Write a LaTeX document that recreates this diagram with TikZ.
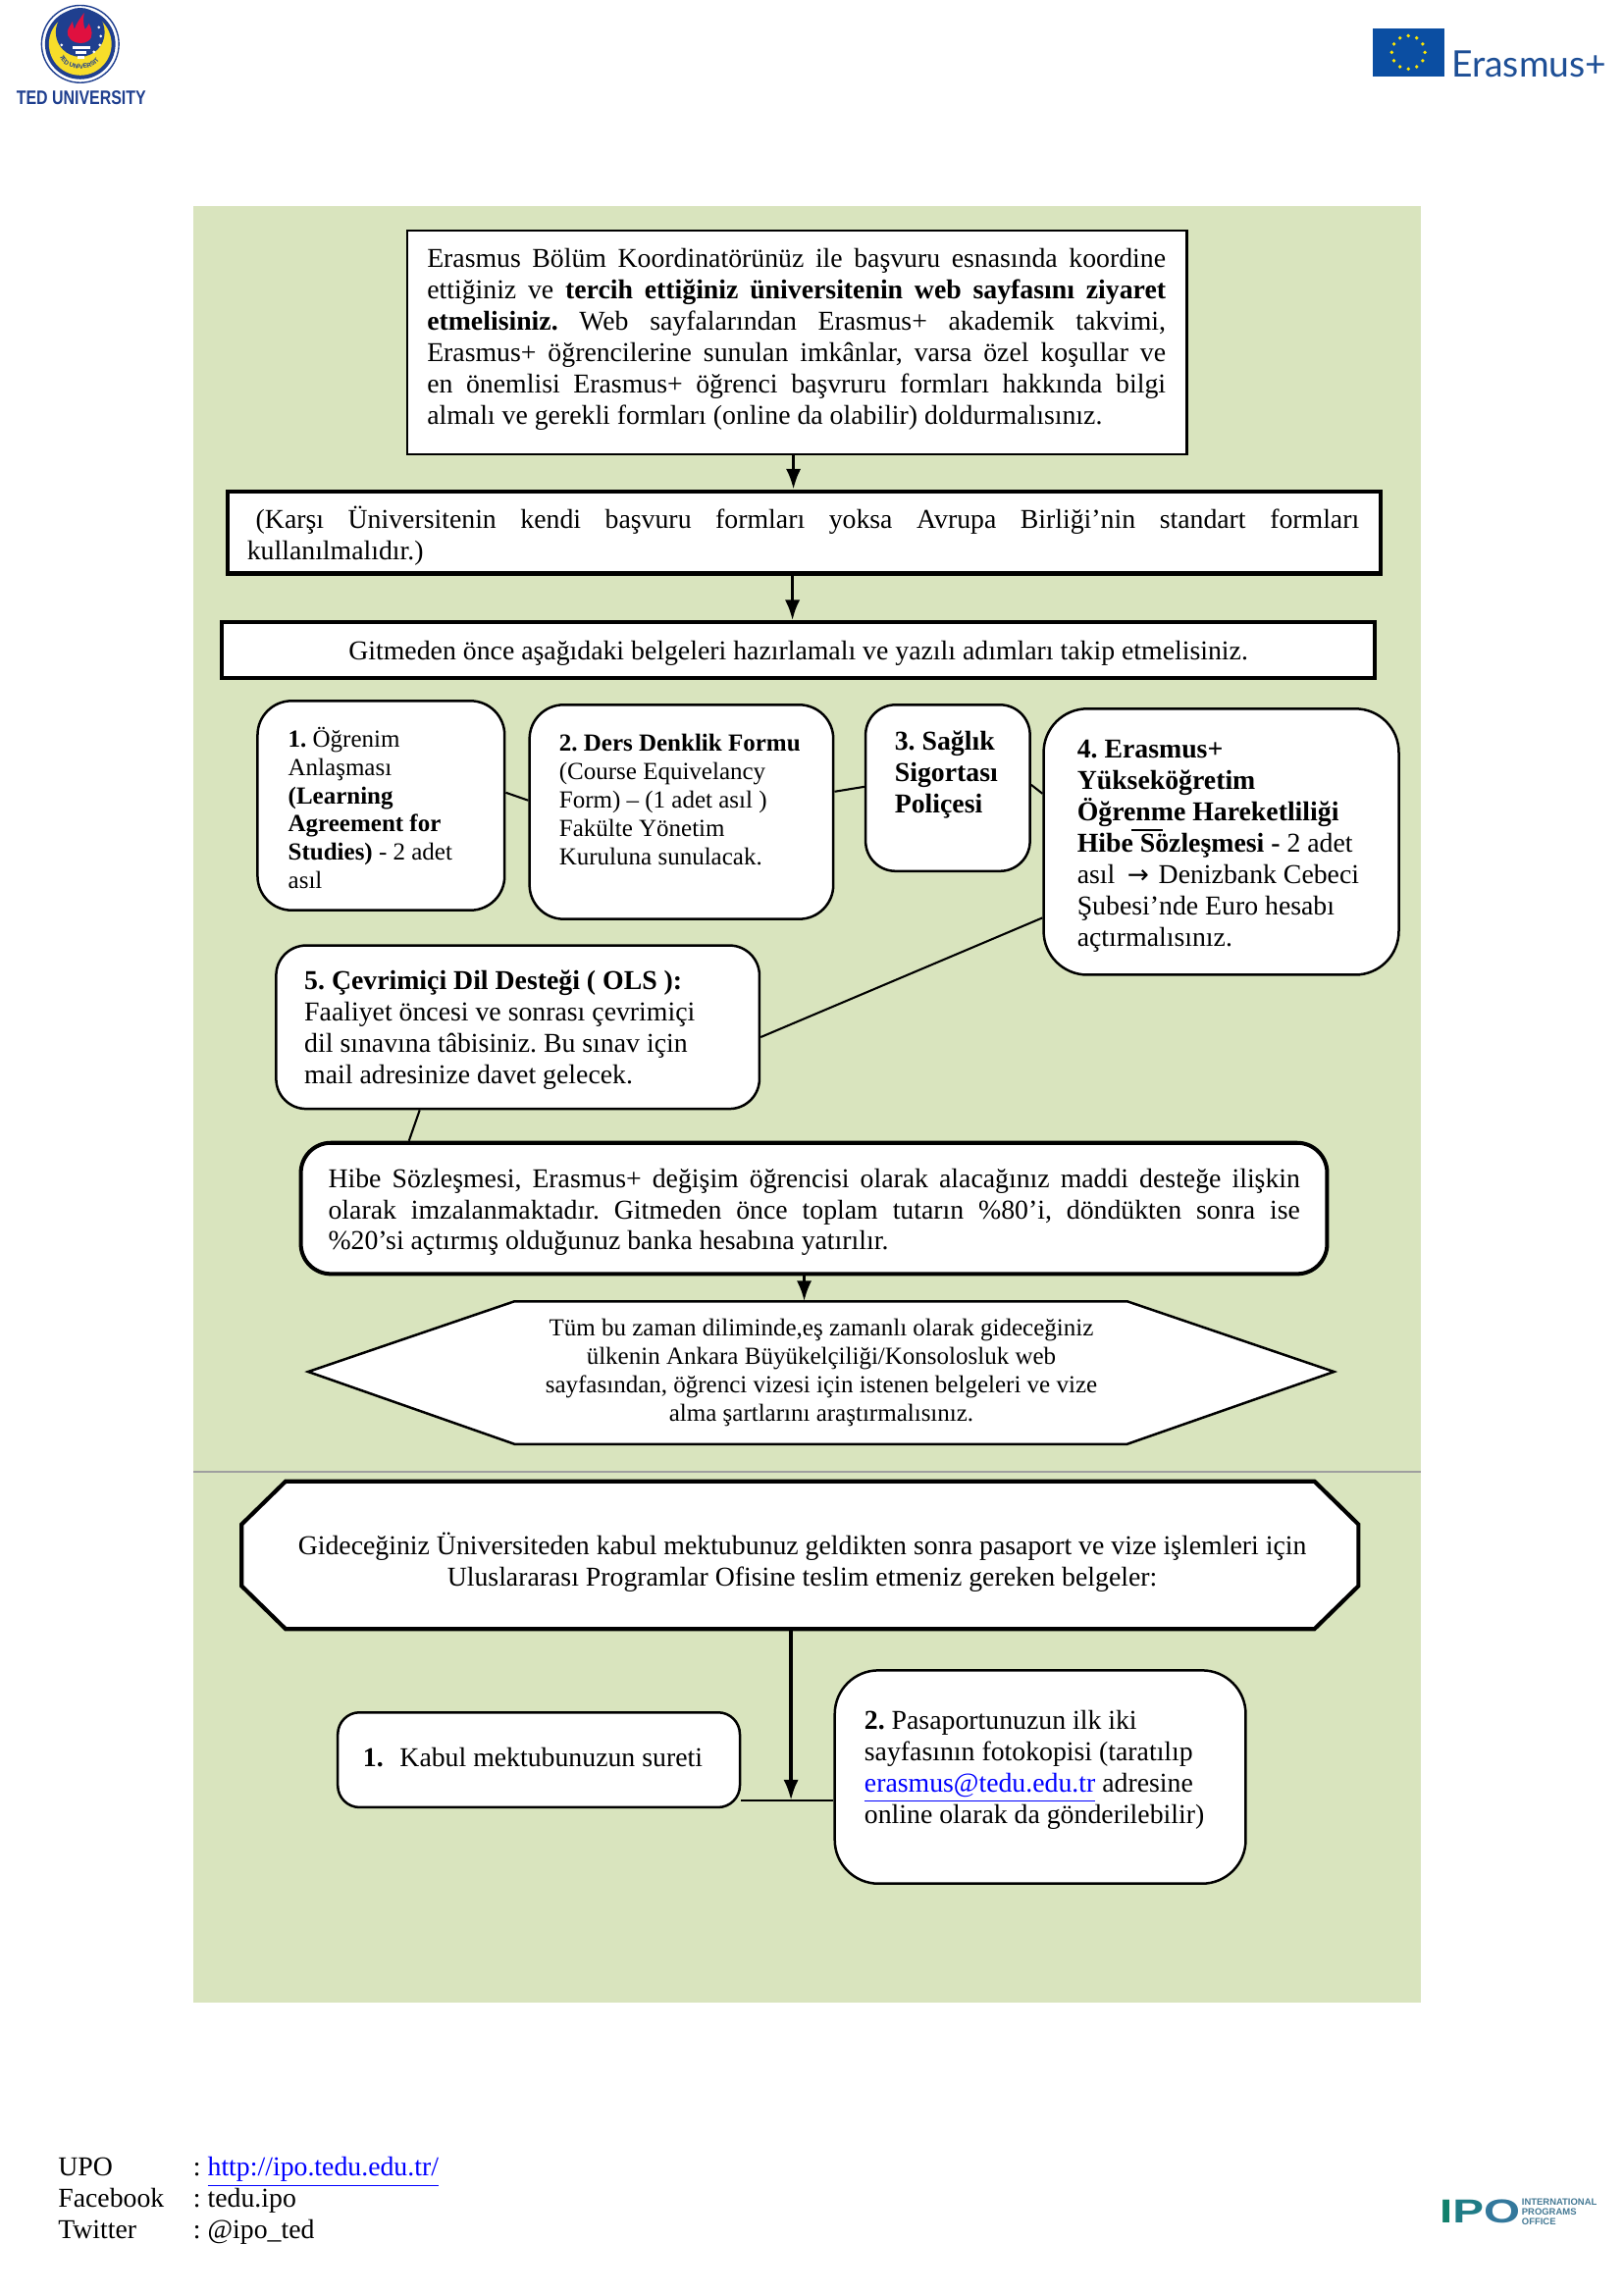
\documentclass[tikz,border=0pt]{standalone}
\usepackage{fontspec}
\usepackage{graphicx}
\setmainfont{Liberation Serif}
\newfontfamily\arrowfont{DejaVu Sans}
\newfontfamily\logosans{Liberation Sans}
\newfontfamily\erasfont{Lato}
\usetikzlibrary{arrows.meta,calc,decorations.text}
\definecolor{panel}{HTML}{D9E4BE}
\definecolor{linkblue}{HTML}{0000FF}
\definecolor{tedblue}{HTML}{1F3F8F}
\definecolor{tedyellow}{HTML}{F7DD2A}
\definecolor{tedred}{HTML}{E0103F}
\definecolor{eublue}{HTML}{0B4EA2}
\definecolor{erastext}{HTML}{1E4F96}
\newcommand\linesetup{\lineskiplimit=-100pt\relax\spaceskip=0pt\relax\xspaceskip=0pt\relax\frenchspacing}
\newcommand\lineJ[1]{\linesetup\noindent\hbox to\hsize{\strut #1}\par}
\newcommand\lineL[1]{\linesetup\noindent\hbox to\hsize{\strut #1\hfil}\par}
\newcommand\lineC[1]{\linesetup\noindent\hbox to\hsize{\strut\hfil #1\hfil}\par}
\newcommand\lnk[1]{\textcolor{linkblue}{\underline{#1}}}
\tikzset{
  x=0.3589pt,y=-0.3589pt,
  thinbox/.style={draw=black,fill=white,line width=0.9pt,rounded corners=#1,inner sep=0pt},
  thickbox/.style={draw=black,fill=white,line width=1.45pt,rounded corners=#1,inner sep=0pt},
  flatbox/.style={draw=black,fill=white,line width=#1,inner sep=0pt},
  txtten/.style={inner sep=0pt,anchor=north west,font=\fontsize{10}{11.5}\selectfont},
  txtnine/.style={inner sep=0pt,anchor=north west,font=\fontsize{9}{10.4}\selectfont},
  flowarrow/.style={draw=black,line width=1.2pt,-{Latex[length=7.5pt,width=5.5pt]}},
  link/.style={draw=black,line width=0.75pt},
}
\newcommand\boxat[6]{% style, name, x1,y1,x2,y2
  \node[#1,minimum width=\dimexpr #5pt*3589/10000-#3pt*3589/10000\relax,minimum height=\dimexpr #6pt*3589/10000-#4pt*3589/10000\relax,anchor=north west] (#2) at (#3,#4) {};}
\begin{document}
\begin{tikzpicture}
\useasboundingbox (0,0) rectangle (1659,2346);
\fill[white] (0,0) rectangle (1659,2346);
% panel
\fill[panel] (198,211) rectangle (1452,2047);
\draw[gray!75,line width=0.7pt] (198,1504) -- (1452,1504);

% TED logo
\draw[tedblue,line width=0.5pt] (82,45) circle (39.5);
\fill[tedblue] (82,45) circle (36);
\fill[tedyellow] (82,45) circle (32);
\fill[tedblue] (82,33) circle (25);
\fill[tedred] (82,44) .. controls (74,44) and (68,38) .. (69,32) .. controls (70,28) and (72,26) .. (74,22) .. controls (75,25) and (75,28) .. (76,30) .. controls (78,24) and (81,20) .. (86,13) .. controls (85,20) and (85,25) .. (87,30) .. controls (89,28) and (90,26) .. (91,24) .. controls (94,30) and (96,38) .. (90,42) .. controls (87,44) and (85,44) .. (82,44) -- cycle;
\fill[white] (74,47) rectangle (92,50);
\fill[white] (77,52) rectangle (88,55);
\fill[white] (79,57) rectangle (86,60);
\foreach \sx/\sy in {101/28,103/37,102/46,96/53,63/46}{\fill[white] (\sx,\sy) circle (1.5);}
\path[decorate,decoration={text along path,text align=center,text={|\logosans\bfseries\fontsize{2.3}{3}\selectfont\color{tedblue}|TED UNIVERSITY}}] (63,62) .. controls (70,73) and (94,73) .. (101,62);
\node[inner sep=0pt,text=tedblue] (tedname) at (83,100) {\resizebox{47.5pt}{5pt}{\logosans\bfseries TED UNIVERSITY}};

% Erasmus logo
\fill[eublue] (1403,29) rectangle (1476,78);
\foreach \a in {0,30,...,330}{\fill[yellow!90!orange] ($(1439.5,53.5)+(\a:17)$) circle (1.9);}
\node[inner sep=0pt,anchor=west,text=erastext] (erasname) at (1483,66) {\fontsize{13.4}{14}\erasfont Erasmus+};

\begin{scope}[shift={(-1,-2.8)}]
% Top boxes
\boxat{thinbox=0pt}{topbox}{416}{237}{1213}{466}
\node[txtten,text width=271pt] (toptext) at (437,253) {%
\lineJ{Erasmus Bölüm Koordinatörünüz ile başvuru esnasında koordine}%
\lineJ{ettiğiniz ve \textbf{tercih ettiğiniz üniversitenin web sayfasını ziyaret}}%
\lineJ{\textbf{etmelisiniz.} Web sayfalarından Erasmus+ akademik takvimi,}%
\lineJ{Erasmus+ öğrencilerine sunulan imkânlar, varsa özel koşullar ve}%
\lineJ{en önemlisi Erasmus+ öğrenci başvruru formları hakkında bilgi}%
\lineL{almalı ve gerekli formları (online da olabilir) doldurmalısınız.}};

\boxat{flatbox=1.5pt}{formbox}{232}{503}{1410}{587}
\node[txtten,text width=408pt] (formtext) at (253,520) {%
\lineJ{\hspace*{3.2pt}(Karşı Üniversitenin kendi başvuru formları yoksa Avrupa Birliği’nin standart formları}%
\lineL{kullanılmalıdır.)}};

\boxat{flatbox=1.5pt}{prepbox}{226}{637}{1404}{694}
\node[inner sep=0pt,font=\fontsize{10}{11.5}\selectfont] (preptext) at (817,671) {Gitmeden önce aşağıdaki belgeleri hazırlamalı ve yazılı adımları takip etmelisiniz.};

\coordinate (toparrow) at (812,466);
\coordinate (formarrow) at (811,587);
\draw[flowarrow] (topbox.south -| toparrow) -- (formbox.north -| toparrow);
\draw[flowarrow] (formbox.south -| formarrow) -- (prepbox.north -| formarrow);

% Five document boxes
\boxat{thinbox=12.5pt}{docone}{263}{718}{515.5}{932}
\boxat{thinbox=12.5pt}{doctwo}{541}{722}{851.5}{941}
\boxat{thinbox=11pt}{docthree}{884.5}{722}{1052.5}{892}
\boxat{thinbox=16pt}{docfour}{1066.5}{726}{1429.5}{998}
\boxat{thinbox=11pt}{docfive}{282}{968}{776}{1135}

\coordinate (ca) at (517,813);
\coordinate (cb) at (541,821);
\coordinate (cc) at (853,812);
\coordinate (cd) at (886,807);
\coordinate (ce) at (1054,805);
\coordinate (cf) at (1068,814);
\coordinate (cg) at (1068,941);
\coordinate (ch) at (776,1063);
\draw[link] (docone.east |- ca) -- (doctwo.west |- cb);
\draw[link] (doctwo.east |- cc) -- (docthree.west |- cd);
\draw[link] (docthree.east |- ce) -- (docfour.west |- cf);
\draw[link] (docfour.west |- cg) -- (docfive.east |- ch);

\node[txtnine,text width=85pt] (onetext) at (295,745.5) {%
\lineL{\textbf{1.} Öğrenim}%
\lineL{Anlaşması}%
\lineL{\textbf{(Learning}}%
\lineL{\textbf{Agreement for}}%
\lineL{\textbf{Studies)} - 2 adet}%
\lineL{asıl}};
\node[txtnine,text width=100pt] (twotext) at (572,750) {%
\lineL{\textbf{2. Ders Denklik Formu}}%
\lineL{(Course Equivelancy}%
\lineL{Form) – (1 adet asıl )}%
\lineL{Fakülte Yönetim}%
\lineL{Kuruluna sunulacak.}};
\node[txtten,text width=50pt] (threetext) at (915,747) {%
\lineL{\textbf{3. Sağlık}}%
\lineL{\textbf{Sigortası}}%
\lineL{\textbf{Poliçesi}}};
\node[txtten,text width=120pt] (fourtext) at (1101.5,755) {%
\lineL{\textbf{4. Erasmus+}}%
\lineL{\textbf{Yükseköğretim}}%
\lineL{\textbf{Öğrenme Hareketliliği}}%
\lineL{\textbf{Hibe Sözleşmesi -} 2 adet}%
\lineL{asıl\hspace{2pt} {\arrowfont\fontsize{9.5}{10}\selectfont →}\hspace{1pt} Denizbank Cebeci}%
\lineL{Şubesi’nde Euro hesabı}%
\lineL{açtırmalısınız.}};
\coordinate (stubleft) at (1157,851);
\coordinate (stubright) at (1190,851);
\draw[line width=0.6pt] (stubleft) -- (stubright);
\node[txtten,text width=160pt] (fivetext) at (311.6,991) {%
\lineL{\textbf{5. Çevrimiçi Dil Desteği ( OLS ):}}%
\lineL{Faaliyet öncesi ve sonrası çevrimiçi}%
\lineL{dil sınavına tâbisiniz. Bu sınav için}%
\lineL{mail adresinize davet gelecek.}};

% Grant box
\boxat{thickbox=11pt}{grantbox}{306.5}{1169}{1355.5}{1303}
\node[txtten,text width=356.5pt] (granttext) at (336,1193.5) {%
\lineJ{Hibe Sözleşmesi, Erasmus+ değişim öğrencisi olarak alacağınız maddi desteğe ilişkin}%
\lineJ{olarak imzalanmaktadır. Gitmeden önce toplam tutarın \%80’i, döndükten sonra ise}%
\lineL{\%20’si açtırmış olduğunuz banka hesabına yatırılır.}};
\coordinate (cfive) at (430,1135);
\coordinate (cgrant) at (419,1169);
\draw[link] (docfive.south -| cfive) -- (grantbox.north -| cgrant);

% Hexagon
\coordinate (hexw) at (316,1405);
\coordinate (hexa) at (527,1333);
\coordinate (hexb) at (1153,1333);
\coordinate (hexe) at (1364.5,1405);
\coordinate (hexc) at (1153,1479);
\coordinate (hexd) at (527,1479);
\draw[fill=white,line width=0.9pt] (hexw) -- (hexa) -- (hexb) -- (hexe) -- (hexc) -- (hexd) -- cycle;
\coordinate (hextop) at (823,1333);
\draw[flowarrow] (grantbox.south -| hextop) -- (hextop);
\node[txtnine,text width=220pt,anchor=north] (hextext) at (840.5,1348) {%
\lineC{Tüm bu zaman diliminde,eş zamanlı olarak gideceğiniz}%
\lineC{ülkenin Ankara Büyükelçiliği/Konsolosluk web}%
\lineC{sayfasından, öğrenci vizesi için istenen belgeleri ve vize}%
\lineC{alma şartlarını araştırmalısınız.}};

% Octagon
\coordinate (oa) at (293,1517);
\coordinate (ob) at (1344.5,1517);
\coordinate (oc) at (1389.5,1561);
\coordinate (od) at (1389.5,1624);
\coordinate (oe) at (1344.5,1668);
\coordinate (of) at (293,1668);
\coordinate (og) at (248,1624);
\coordinate (oh) at (248,1561);
\draw[fill=white,line width=1.5pt,line join=miter] (oa) -- (ob) -- (oc) -- (od) -- (oe) -- (of) -- (og) -- (oh) -- cycle;
\node[txtten,text width=400pt,anchor=north] (octtext) at (821,1569) {%
\lineC{Gideceğiniz Üniversiteden kabul mektubunuz geldikten sonra pasaport ve vize işlemleri için}%
\lineC{Uluslararası Programlar Ofisine teslim etmeniz gereken belgeler:}};

% Bottom boxes
\boxat{thinbox=8pt}{kabulbox}{345}{1752}{756}{1849}
\boxat{thinbox=16pt}{passbox}{853}{1709}{1273}{1927}
\node[txtten,text width=130pt] (kabultext) at (371.5,1786) {%
\lineL{\textbf{1.}\hspace{6pt}Kabul mektubunuzun sureti}};
\node[txtten,text width=130pt] (passtext) at (884,1747.5) {%
\lineL{\textbf{2.} Pasaportunuzun ilk iki}%
\lineL{sayfasının fotokopisi (taratılıp}%
\lineL{\lnk{erasmus@tedu.edu.tr} adresine}%
\lineL{online olarak da gönderilebilir)}};
\coordinate (join) at (809.5,1843);
\coordinate (octdown) at (809.5,1668);
\draw[link] (kabulbox.east |- join) -- (passbox.west |- join);
\draw[flowarrow] (octdown) -- (join);
\end{scope}

% Footer
\node[txtten,text width=60pt] (fnames) at (59,2201.5) {%
\lineL{UPO}%
\lineL{Facebook}%
\lineL{Twitter}};
\node[txtten,text width=120pt] (fvalues) at (197,2201.5) {%
\lineL{: \lnk{http://ipo.tedu.edu.tr/}}%
\lineL{: tedu.ipo}%
\lineL{: @ipo\_ted}};

% IPO logo
\definecolor{ipogreen}{HTML}{11806B}
\definecolor{ipoteal}{HTML}{1F7C86}
\definecolor{ipoblue}{HTML}{33789C}
\node[inner sep=0pt,anchor=west] (ipoword) at (1471,2261) {\resizebox{29.5pt}{8.5pt}{\logosans\bfseries\textcolor{ipogreen}{I}\textcolor{ipoteal}{P}\textcolor{ipoblue}{O}}};
\node[inner sep=0pt,anchor=west,align=left,text=ipoblue!75!gray,font=\logosans\bfseries\fontsize{3.4}{3.6}\selectfont] (ipotext) at (1555,2261) {INTERNATIONAL\\PROGRAMS\\OFFICE};
\end{tikzpicture}
\end{document}
